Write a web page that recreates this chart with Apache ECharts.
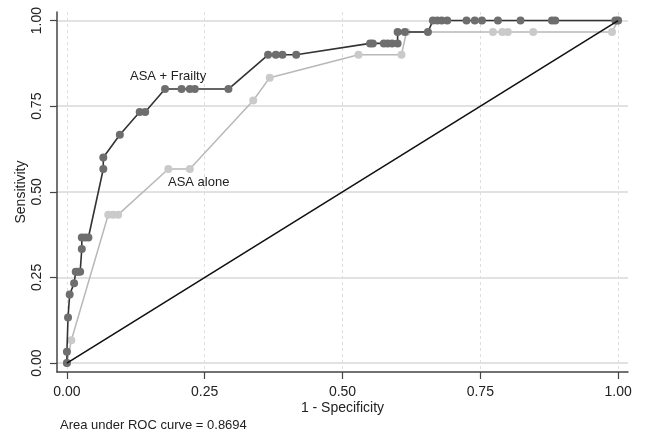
<!DOCTYPE html>
<html>
<head>
<meta charset="utf-8">
<script src="https://cdn.jsdelivr.net/npm/echarts@6/dist/echarts.min.js"></script>
<style>
  html, body { margin: 0; padding: 0; background: #fff; }
  #chart { width: 645px; height: 434px; }
</style>
</head>
<body>
<div id="chart"></div>
<script>
// ROC points (1 - specificity, sensitivity)
const frailtyFpr = [0, 0, 0.002, 0.005, 0.013, 0.016, 0.020, 0.024, 0.027, 0.027, 0.033, 0.039,
  0.066, 0.066, 0.096, 0.132, 0.142, 0.178, 0.208, 0.223, 0.232, 0.293, 0.365, 0.379, 0.391, 0.416,
  0.550, 0.555, 0.575, 0.582, 0.590, 0.600, 0.600, 0.613, 0.655, 0.664, 0.672, 0.680, 0.690,
  0.725, 0.740, 0.753, 0.782, 0.823, 0.880, 0.886, 0.995, 1]
const frailtyTpr = [0, 0.0333, 0.1333, 0.2, 0.2333, 0.2667, 0.2667, 0.2667, 0.3333, 0.3667, 0.3667, 0.3667,
  0.5667, 0.6, 0.6667, 0.7333, 0.7333, 0.8, 0.8, 0.8, 0.8, 0.8, 0.9, 0.9, 0.9, 0.9,
  0.9333, 0.9333, 0.9333, 0.9333, 0.9333, 0.9333, 0.9667, 0.9667, 0.9667, 1, 1, 1, 1,
  1, 1, 1, 1, 1, 1, 1, 1, 1]
const aloneFpr = [0, 0.008, 0.075, 0.084, 0.093, 0.184, 0.223, 0.338, 0.368, 0.529, 0.607,
  0.616, 0.773, 0.790, 0.800, 0.846, 0.989, 1]
const aloneTpr = [0, 0.0667, 0.4333, 0.4333, 0.4333, 0.5667, 0.5667, 0.7667, 0.8333, 0.9, 0.9,
  0.9667, 0.9667, 0.9667, 0.9667, 0.9667, 0.9667, 1]
const refX = [0, 1]
const refY = [0, 1]
const tickValues = [0, 0.25, 0.5, 0.75, 1]

const pairs = (xs, ys) => xs.map((x, i) => [x, ys[i]])
const font = 'Liberation Sans, Arial, sans-serif'

const chart = echarts.init(document.getElementById('chart'))
chart.setOption({
  animation: false,
  backgroundColor: '#fff',
  grid: { left: 57, right: 17, top: 12, bottom: 62 },
  xAxis: {
    type: 'value', min: -0.018, max: 1.018,
    name: '1 - Specificity', nameLocation: 'middle', nameGap: 29, nameMoveOverlap: false,
    nameTextStyle: { fontFamily: font, fontSize: 14, color: '#222' },
    axisLine: { show: true, onZero: false, lineStyle: { color: '#444', width: 1.5 } },
    axisTick: { show: true, length: 7, customValues: tickValues, lineStyle: { color: '#444', width: 1.2 } },
    axisLabel: { customValues: tickValues, margin: 13, fontFamily: font, fontSize: 14, color: '#222',
      formatter: v => v.toFixed(2) },
    splitLine: { show: true, lineStyle: { color: '#dedede', type: [3, 3], width: 1 } }
  },
  yAxis: {
    type: 'value', min: -0.026, max: 1.025,
    name: 'Sensitivity', nameLocation: 'middle', nameGap: 29, nameMoveOverlap: false,
    nameTextStyle: { fontFamily: font, fontSize: 14, color: '#222' },
    axisLine: { show: true, onZero: false, lineStyle: { color: '#444', width: 1.5 } },
    axisTick: { show: true, length: 7, customValues: tickValues, lineStyle: { color: '#444', width: 1.2 } },
    axisLabel: { customValues: tickValues, margin: 13, rotate: 90, fontFamily: font, fontSize: 14, color: '#222',
      formatter: v => v.toFixed(2) },
    splitLine: { show: true, lineStyle: { color: '#d8d8d8', width: 1.5 } }
  },
  series: [
    {
      name: 'ASA alone', type: 'line', data: pairs(aloneFpr, aloneTpr), clip: false,
      symbol: 'circle', symbolSize: 8,
      lineStyle: { color: '#b8b8b8', width: 1.5 },
      itemStyle: { color: '#cacaca' }, z: 2
    },
    {
      name: 'ASA + Frailty', type: 'line', data: pairs(frailtyFpr, frailtyTpr), clip: false,
      symbol: 'circle', symbolSize: 8,
      lineStyle: { color: '#333', width: 1.6 },
      itemStyle: { color: '#6e6e6e' }, z: 3
    },
    {
      name: 'Reference', type: 'line', data: pairs(refX, refY), clip: false,
      symbol: 'none', lineStyle: { color: '#111', width: 1.6 }, z: 4
    }
  ],
  graphic: [
    { type: 'text', left: 130, top: 70, style: { text: 'ASA + Frailty', font: '13px ' + font, fill: '#222' } },
    { type: 'text', left: 168, top: 176, style: { text: 'ASA alone', font: '13px ' + font, fill: '#222' } },
    { type: 'text', left: 60, top: 419, style: { text: 'Area under ROC curve = 0.8694', font: '13px ' + font, fill: '#222' } }
  ]
})
</script>
</body>
</html>
